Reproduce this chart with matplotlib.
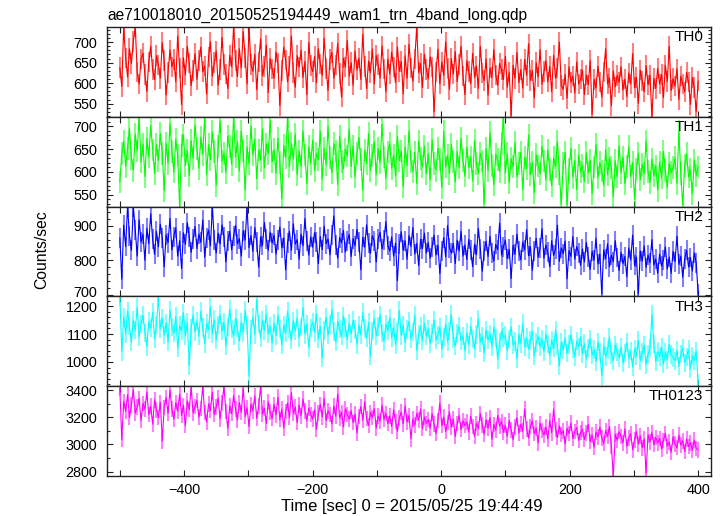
import numpy as np
import matplotlib
matplotlib.use("Agg")
import matplotlib.pyplot as plt
from matplotlib.ticker import MultipleLocator
from matplotlib.colors import to_rgba
from matplotlib.transforms import ScaledTranslation

plt.rcParams['font.family'] = ['Liberation Sans', 'DejaVu Sans']

time_sec = np.arange(-500, 401, 3)

th0 = [638, 592, 737, 661, 615, 684, 648, 702, 737, 627, 598, 659, 673, 621, 580, 652, 690, 633, 609, 667,
       644, 612, 699, 655, 571, 626, 681, 640, 658, 603, 715, 637, 548, 662, 620, 690, 649, 594, 631, 672,
       609, 655, 688, 628, 642, 573, 664, 701, 617, 650, 679, 595, 633, 712, 646, 622, 587, 668, 640, 737,
       655, 616, 684, 637, 726, 661, 598, 737, 645, 629, 670, 584, 652, 708, 619, 641, 693, 577, 660, 634,
       612, 676, 649, 545, 631, 688, 657, 603, 642, 715, 626, 590, 667, 639, 681, 614, 653, 572, 699, 643,
       628, 665, 601, 684, 647, 619, 710, 636, 582, 658, 675, 612, 644, 697, 623, 566, 661, 639, 704, 617,
       650, 595, 678, 632, 661, 609, 720, 641, 587, 654, 626, 683, 598, 667, 645, 613, 691, 634, 579, 659,
       622, 676, 640, 601, 688, 629, 653, 574, 667, 612, 695, 637, 605, 659, 737, 626, 648, 589, 671, 633,
       611, 664, 640, 530, 627, 683, 598, 652, 619, 701, 636, 585, 660, 622, 677, 604, 645, 690, 618, 572,
       655, 628, 599, 673, 614, 642, 587, 690, 625, 606, 659, 571, 637, 614, 682, 620, 595, 648, 633, 609,
       666, 590, 627, 520, 644, 612, 675, 601, 633, 588, 658, 619, 696, 607, 631, 564, 650, 615, 682, 598,
       628, 655, 603, 641, 579, 668, 612, 637, 700, 594, 585, 621, 563, 640, 602, 617, 576, 652, 598, 610,
       631, 572, 620, 596, 655, 524, 609, 588, 641, 603, 566, 627, 684, 598, 613, 545, 630, 591, 619, 602,
       640, 583, 610, 567, 625, 598, 672, 589, 614, 551, 632, 605, 579, 643, 596, 620, 518, 611, 587, 636,
       598, 621, 565, 644, 604, 690, 582, 611, 593, 635, 560, 617, 598, 579, 626, 603, 548, 614, 589, 530,
       605]

th1 = [578, 640, 667, 612, 651, 695, 629, 604, 683, 646, 721, 622, 661, 590, 674, 633, 702, 648, 597, 660,
       625, 684, 641, 559, 663, 619, 706, 645, 600, 672, 637, 524, 658, 681, 614, 647, 592, 669, 630, 703,
       651, 608, 676, 639, 721, 594, 660, 627, 688, 645, 571, 656, 712, 623, 641, 599, 679, 655, 617, 721,
       633, 667, 602, 689, 646, 561, 655, 618, 700, 637, 672, 585, 648, 626, 694, 609, 661, 640, 713, 622,
       649, 597, 674, 620, 541, 658, 632, 721, 611, 663, 628, 683, 594, 646, 612, 690, 637, 574, 655, 619,
       670, 603, 641, 627, 689, 584, 652, 616, 700, 631, 598, 662, 645, 572, 679, 623, 607, 650, 635, 694,
       612, 657, 589, 641, 676, 627, 560, 648, 618, 685, 603, 636, 666, 594, 651, 620, 705, 633, 586, 644,
       662, 608, 637, 591, 679, 625, 646, 568, 655, 614, 690, 622, 601, 643, 575, 668, 629, 612, 657, 596,
       640, 583, 671, 619, 604, 652, 628, 566, 689, 611, 637, 597, 660, 622, 578, 645, 609, 674, 626, 591,
       655, 610, 633, 580, 669, 618, 597, 641, 624, 530, 652, 603, 686, 615, 572, 639, 627, 601, 663, 721,
       598, 640, 577, 629, 612, 665, 589, 618, 643, 561, 632, 607, 681, 594, 621, 554, 638, 613, 596, 657,
       624, 583, 648, 605, 570, 631, 612, 667, 596, 529, 618, 643, 527, 606, 652, 588, 625, 561, 637, 600,
       615, 579, 642, 598, 626, 553, 611, 660, 587, 620, 602, 571, 648, 594, 630, 610, 546, 625, 589, 657,
       598, 633, 574, 612, 655, 590, 621, 540, 606, 641, 583, 617, 596, 668, 601, 577, 628, 592, 613, 560,
       622, 587, 645, 603, 566, 619, 598, 610, 631, 575, 690, 596, 527, 614, 640, 589, 605, 552, 626, 593,
       611]

th2 = [865, 745, 902, 840, 956, 871, 829, 956, 888, 812, 918, 853, 876, 800, 893, 848, 935, 862, 817, 884,
       839, 905, 866, 781, 874, 851, 922, 830, 869, 894, 812, 857, 776, 880, 846, 909, 868, 823, 861, 898,
       834, 876, 852, 917, 809, 866, 888, 842, 956, 858, 821, 879, 847, 903, 869, 795, 856, 884, 830, 871,
       901, 848, 863, 812, 886, 859, 956, 837, 872, 826, 895, 854, 780, 868, 843, 910, 861, 829, 882, 850,
       873, 818, 859, 897, 836, 865, 772, 851, 884, 829, 906, 847, 860, 803, 876, 842, 921, 855, 815, 868,
       838, 880, 853, 790, 869, 831, 899, 848, 862, 816, 874, 929, 845, 806, 866, 851, 887, 824, 857, 875,
       811, 863, 842, 890, 854, 772, 867, 838, 903, 849, 820, 871, 856, 795, 862, 881, 833, 858, 912, 843,
       827, 868, 812, 850, 741, 846, 883, 829, 857, 803, 872, 840, 895, 818, 849, 785, 861, 834, 879, 821,
       852, 806, 839, 873, 815, 844, 761, 828, 866, 810, 901, 836, 821, 849, 790, 858, 827, 884, 812, 845,
       802, 861, 829, 781, 847, 816, 893, 834, 768, 826, 855, 811, 870, 822, 798, 846, 831, 908, 815, 839,
       859, 805, 832, 747, 844, 818, 876, 826, 801, 853, 830, 889, 813, 840, 771, 827, 864, 809, 835, 892,
       806, 845, 823, 781, 857, 814, 832, 902, 797, 836, 819, 856, 746, 828, 811, 869, 803, 840, 822, 785,
       833, 795, 852, 810, 773, 826, 800, 864, 789, 818, 702, 830, 805, 848, 781, 815, 796, 857, 808, 770,
       823, 790, 811, 752, 836, 801, 873, 785, 809, 702, 827, 797, 842, 779, 815, 793, 860, 786, 804, 762,
       818, 783, 801, 839, 775, 809, 762, 826, 796, 870, 788, 812, 751, 803, 829, 781, 808, 769, 822, 792,
       702]

th3 = [1235, 1038, 1160, 1101, 1183, 1129, 1072, 1150, 1114, 1195, 1090, 1137, 1168, 1104, 1056, 1145, 1121, 1178, 1082, 1133,
       1231, 1118, 1157, 1096, 1139, 1072, 1186, 1125, 1103, 1164, 1049, 1130, 1112, 1176, 1094, 1141, 987, 1120, 1169, 1108,
       1147, 1092, 1181, 1124, 1065, 1138, 1115, 1197, 1101, 1152, 1079, 1133, 1170, 1110, 1143, 1057, 1126, 1189, 1118, 1095,
       1158, 1121, 1074, 1142, 1106, 1184, 1131, 950, 1116, 1162, 1098, 1224, 1137, 1085, 1149, 1113, 1172, 1102, 1128, 1067,
       1139, 1095, 1167, 1118, 1061, 1132, 1104, 1181, 1120, 1078, 1147, 1111, 1158, 1087, 1126, 1196, 1099, 1137, 1052, 1121,
       1143, 1106, 1172, 1083, 1128, 1015, 1113, 1160, 1097, 1134, 1188, 1109, 1071, 1145, 1118, 1092, 1165, 1124, 1080, 1139,
       1101, 1150, 1117, 1063, 1133, 1096, 1177, 1120, 1085, 1142, 1021, 1110, 1155, 1093, 1127, 1169, 1104, 1074, 1136, 1112,
       1158, 1087, 1124, 1062, 1110, 1184, 1095, 1131, 1070, 1116, 1145, 1083, 1108, 1167, 1040, 1099, 1127, 1076, 1139, 1093,
       1118, 1065, 1103, 1150, 1079, 1097, 1125, 1046, 1089, 1136, 1072, 1111, 1170, 1084, 1058, 1102, 1128, 1075, 1094, 1039,
       1106, 1061, 1129, 1083, 1047, 1098, 1155, 1070, 1093, 1032, 1115, 1078, 1101, 1056, 1124, 1085, 1009, 1072, 1110, 1088,
       1095, 1041, 1083, 1126, 1060, 1074, 1012, 1099, 1066, 1138, 1053, 1087, 1045, 1078, 1109, 1021, 1069, 1092, 1056, 1081,
       1037, 1100, 1064, 1022, 1079, 1049, 1115, 1058, 985, 1071, 1043, 1086, 1031, 1062, 1097, 1048, 1018, 1075, 1054, 1090,
       1029, 1066, 1011, 1050, 1083, 1024, 1045, 1002, 1071, 1035, 950, 1058, 1019, 1042, 1088, 1027, 1004, 1061, 1036, 1015,
       1053, 996, 1031, 1070, 1012, 1039, 981, 1047, 1022, 1078, 1005, 1034, 1060, 990, 1028, 1049, 1170, 1064, 1001, 1037,
       1020, 1052, 993, 1035, 1008, 1063, 1026, 1016, 1004, 1041, 985, 1029, 1050, 997, 1018, 1044, 975, 1022, 1003, 1038,
       920]

th0123 = [3412, 3035, 3318, 3244, 3367, 3198, 3290, 3402, 3231, 3275, 3340, 3176, 3302, 3261, 3385, 3219, 3283, 3150, 3329, 3255,
          3198, 3310, 3026, 3274, 3346, 3229, 3401, 3262, 3187, 3308, 3245, 3371, 3214, 3288, 3140, 3321, 3256, 3420, 3233, 3279,
          3324, 3201, 3266, 3428, 3237, 3165, 3298, 3250, 3385, 3219, 3276, 3342, 3188, 3305, 3425, 3242, 3119, 3284, 3227, 3360,
          3262, 3180, 3309, 3236, 3414, 3205, 3271, 3133, 3296, 3248, 3357, 3192, 3283, 3428, 3224, 3268, 3155, 3314, 3239, 3190,
          3296, 3217, 3348, 3182, 3260, 3123, 3243, 3305, 3199, 3382, 3230, 3275, 3161, 3290, 3211, 3334, 3246, 3176, 3268, 3221,
          3187, 3256, 3112, 3231, 3294, 3203, 3340, 3175, 3248, 3219, 3151, 3283, 3208, 3372, 3194, 3237, 3130, 3262, 3221, 3186,
          3248, 3161, 3223, 3084, 3205, 3279, 3177, 3314, 3192, 3140, 3236, 3198, 3265, 3121, 3211, 3172, 3290, 3186, 3229, 3153,
          3209, 3133, 3254, 3170, 3097, 3196, 3238, 3151, 3283, 3165, 3213, 3042, 3188, 3142, 3229, 3179, 3260, 3117, 3201, 3156,
          3184, 3120, 3227, 3149, 3081, 3176, 3305, 3138, 3201, 3095, 3162, 3240, 3127, 3188, 3058, 3153, 3214, 3110, 3175, 3139,
          3166, 3092, 3208, 3131, 3059, 3155, 3117, 3229, 3143, 3076, 3181, 3120, 3197, 3038, 3148, 3106, 3213, 3135, 3170, 3089,
          3142, 3061, 3177, 3108, 3036, 3129, 3196, 3085, 3150, 3098, 3262, 3115, 3047, 3133, 3174, 3079, 3121, 3012, 3156, 3103,
          3069, 3128, 3041, 3175, 3086, 3260, 3112, 3050, 3137, 3074, 3101, 3003, 3119, 3081, 3158, 3044, 3096, 3124, 3029, 3088,
          3113, 3037, 3085, 3149, 3022, 3070, 2980, 3091, 3054, 3127, 3046, 3008, 3102, 3060, 3132, 2990, 2768, 3076, 3031, 3094,
          3058, 3012, 3115, 2986, 3047, 3079, 2961, 3034, 3096, 3005, 3063, 2975, 3041, 2790, 3070, 3019, 3088, 2998, 3052, 3011,
          3044, 2965, 3031, 3082, 2987, 3019, 2942, 3056, 3003, 2976, 3068, 2995, 3027, 2950, 3040, 2984, 3012, 2958, 3033, 2971,
          2960]

band_labels = ["TH0", "TH1", "TH2", "TH3", "TH0123"]
band_values = [th0, th1, th2, th3, th0123]
band_errors = [25, 25, 29, 33, 57]
colors = ["#ff0000", "#00ff00", "#0000ff", "#00ffff", "#ff00ff"]
ylims = [(518, 737), (524, 721), (695, 956), (913, 1235), (2768, 3429)]
major_steps = [50, 50, 100, 100, 200]
minor_steps = [10, 10, 20, 20, 100]

title = "ae710018010_20150525194449_wam1_trn_4band_long.qdp"
xlabel = "Time [sec] 0 = 2015/05/25 19:44:49"
ylabel = "Counts/sec"

fig = plt.figure(figsize=(7.23, 5.16), dpi=100)
axes = fig.subplots(5, 1, sharex=True)
fig.subplots_adjust(left=107/723, right=711/723, top=1-27/516, bottom=1-476/516, hspace=0)

for ax, lab, vals, err, c, yl, mj, mn in zip(axes, band_labels, band_values, band_errors,
                                             colors, ylims, major_steps, minor_steps):
    vals = np.asarray(vals, dtype=float)
    ax.errorbar(time_sec, vals, yerr=err, fmt='-', color=c, lw=0.8,
                ecolor=to_rgba(c, 0.5), elinewidth=1.5, capsize=0)
    ax.set_ylim(*yl)
    ax.set_xlim(-520, 420)
    ax.yaxis.set_major_locator(MultipleLocator(mj))
    ax.yaxis.set_minor_locator(MultipleLocator(mn))
    ax.xaxis.set_major_locator(MultipleLocator(200))
    ax.xaxis.set_minor_locator(MultipleLocator(100))
    ax.tick_params(axis='both', which='both', direction='in', top=True, right=True,
                   color='#222222', labelsize=10.4)
    ax.tick_params(axis='y', which='major', length=4.5, width=0.8, pad=7)
    ax.tick_params(axis='y', which='minor', length=2.3, width=0.8)
    ax.tick_params(axis='x', which='both', length=4.5, width=0.8, pad=5)
    for sp in ax.spines.values():
        sp.set_linewidth(1.0)
        sp.set_color('#222222')
    ax.text(0.987, 0.965, lab, transform=ax.transAxes, ha='right', va='top', fontsize=11)

# lift the lowest TH2 tick label slightly so it does not collide with TH3's top label
fig.canvas.draw()
ax2 = axes[2]
for tick in ax2.yaxis.get_major_ticks():
    if abs(tick.get_loc() - 700) < 1e-6:
        lbl = tick.label1
        lbl.set_transform(lbl.get_transform() + ScaledTranslation(0, 3/100, fig.dpi_scale_trans))

fig.text(107/723, 1-15/516, title, ha='left', va='center', fontsize=11.2)
fig.text(42/723, 1-250/516, ylabel, rotation=90, ha='center', va='center', fontsize=11.3)
fig.text(412/723, 1-507/516, xlabel, ha='center', va='center', fontsize=12)

fig.savefig("out.png", dpi=100)
